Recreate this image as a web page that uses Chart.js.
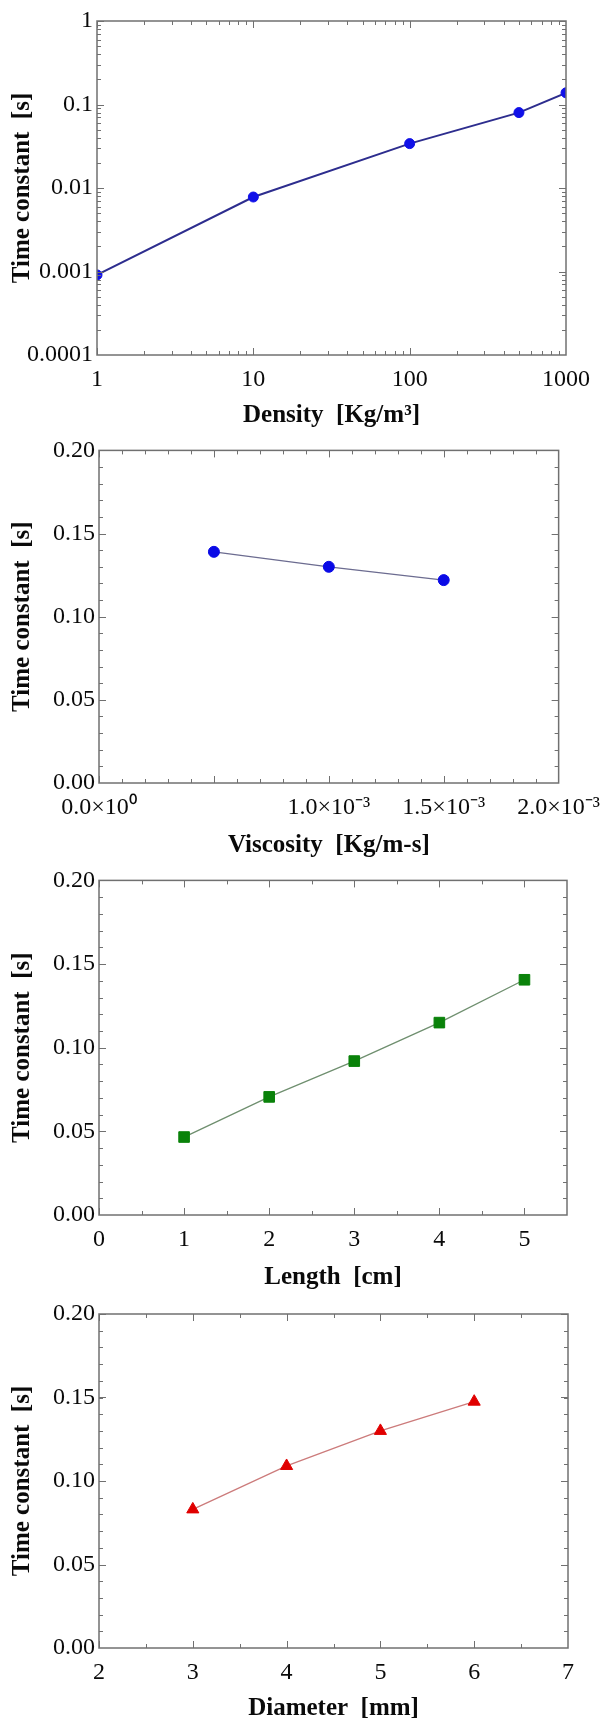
<!DOCTYPE html>
<html>
<head>
<meta charset="utf-8">
<script src="https://cdn.jsdelivr.net/npm/chart.js@4.4.1/dist/chart.umd.min.js"></script>
<style>
html,body{margin:0;padding:0;background:#fff;overflow:hidden;width:610px;height:1721px;}
canvas{position:absolute;left:0;display:block;}
</style>
</head>
<body>
<canvas id="c1" width="610" height="432" style="top:0px"></canvas>
<canvas id="c2" width="610" height="430" style="top:432px"></canvas>
<canvas id="c3" width="610" height="432" style="top:862px"></canvas>
<canvas id="c4" width="610" height="430" style="top:1294px"></canvas>
<script>
// ---------- DATA ----------
const densityX = [1, 10, 100, 500, 1000];
const densityY = [0.00091, 0.0078, 0.034, 0.080, 0.138];
const densityXTicks = [1, 10, 100, 1000];
const densityXLabels = ['1', '10', '100', '1000'];
const densityYTicks = [0.0001, 0.001, 0.01, 0.1, 1];
const densityYLabels = ['0.0001', '0.001', '0.01', '0.1', '1'];

const viscosityX = [0.0005, 0.0010, 0.0015];
const viscosityY = [0.139, 0.130, 0.122];
const viscosityXTicks = [0, 0.001, 0.0015, 0.002];
const viscosityXLabels = ['0.0×10⁰', '1.0×10⁻³', '1.5×10⁻³', '2.0×10⁻³'];

const lengthX = [1, 2, 3, 4, 5];
const lengthY = [0.0466, 0.0706, 0.092, 0.115, 0.1406];
const lengthXTicks = [0, 1, 2, 3, 4, 5];
const lengthXLabels = ['0', '1', '2', '3', '4', '5'];

const diameterX = [3, 4, 5, 6];
const diameterY = [0.083, 0.109, 0.130, 0.1475];
const diameterXTicks = [2, 3, 4, 5, 6, 7];
const diameterXLabels = ['2', '3', '4', '5', '6', '7'];

const timeYTicks = [0, 0.05, 0.10, 0.15, 0.20];
const timeYLabels = ['0.00', '0.05', '0.10', '0.15', '0.20'];

const yTitle = 'Time constant  [s]';

// ---------- helpers for frame tick marks (decoration) ----------
function steps(a, b, s) { const out = []; const n = Math.round((b - a) / s); for (let i = 0; i <= n; i++) out.push(a + i * s); return out; }
function logMinor(lo, hi) { const out = []; for (let d = lo; d < hi; d *= 10) for (let k = 2; k <= 9; k++) out.push(d * k); return out; }

const frameTicks = {
  id: 'frameTicks',
  afterDatasetsDraw(chart, args, o) {
    const {ctx, chartArea: a, scales: {x, y}} = chart;
    ctx.save();
    ctx.strokeStyle = '#707070';
    ctx.lineWidth = 1;
    const seg = (x1, y1, x2, y2) => { ctx.beginPath(); ctx.moveTo(x1, y1); ctx.lineTo(x2, y2); ctx.stroke(); };
    const xs = (vals, len) => vals.forEach(v => { const p = Math.round(x.getPixelForValue(v)) + 0.5; if (p < a.left || p > a.right) return; seg(p, a.bottom, p, a.bottom - len); seg(p, a.top, p, a.top + len); });
    const ys = (vals, len) => vals.forEach(v => { const p = Math.round(y.getPixelForValue(v)) + 0.5; if (p < a.top || p > a.bottom) return; seg(a.left, p, a.left + len, p); seg(a.right, p, a.right - len, p); });
    xs(o.xMajor, 7); xs(o.xMinor, 4);
    ys(o.yMajor, 7); ys(o.yMinor, 4);
    ctx.lineWidth = 1.5;
    ctx.strokeRect(a.left, a.top, a.right - a.left, a.bottom - a.top);
    ctx.restore();
  }
};

const SERIF = '"Liberation Serif", "Times New Roman", serif';

function makeChart(id, c) {
  const canvas = document.getElementById(id);
  const H = canvas.height;
  return new Chart(canvas, {
    type: 'scatter',
    data: {
      datasets: [{
        data: c.xs.map((v, i) => ({x: v, y: c.ys[i]})),
        showLine: true,
        clip: c.clip,
        borderColor: c.lineColor,
        borderWidth: c.lineWidth,
        pointStyle: c.pointStyle,
        pointRadius: c.pointRadius,
        pointBackgroundColor: c.pointColor,
        pointBorderColor: c.pointColor,
        pointBorderWidth: 1,
        tension: 0
      }]
    },
    options: {
      responsive: false,
      animation: false,
      events: [],
      layout: {padding: {left: 0, top: c.top, right: 610 - c.right, bottom: 0}},
      plugins: {legend: {display: false}, tooltip: {enabled: false}, frameTicks: c.frame},
      scales: {
        x: {
          type: c.xType, min: c.xMin, max: c.xMax,
          grid: {display: false, drawTicks: false},
          border: {display: false},
          afterBuildTicks: s => { s.ticks = c.xTicks.map(v => ({value: v})); },
          afterFit: s => { s.height = H - c.bottom; },
          ticks: {
            autoSkip: false, maxRotation: 0, minRotation: 0, padding: 10,
            color: '#0a0a0a', font: {family: SERIF, size: 24},
            callback: (v, i) => c.xLabels[i]
          },
          title: {display: true, text: c.xTitle, color: '#0a0a0a', font: {family: SERIF, size: 25, weight: 'bold'}, padding: {top: 0, bottom: c.titlePad}}
        },
        y: {
          type: c.yType, min: c.yMin, max: c.yMax,
          grid: {display: false, drawTicks: false},
          border: {display: false},
          afterBuildTicks: s => { s.ticks = c.yTicks.map(v => ({value: v})); },
          afterFit: s => { s.width = c.left; },
          ticks: {
            autoSkip: false, padding: 4,
            color: '#0a0a0a', font: {family: SERIF, size: 24},
            callback: (v, i) => c.yLabels[i]
          },
          title: {display: true, text: yTitle, color: '#0a0a0a', font: {family: SERIF, size: 25, weight: 'bold'}, padding: {top: 8, bottom: 0}}
        }
      }
    },
    plugins: [frameTicks]
  });
}

const linY = {yType: 'linear', yMin: 0, yMax: 0.2, yTicks: timeYTicks, yLabels: timeYLabels};
const linYFrame = {yMajor: steps(0, 0.2, 0.05), yMinor: steps(0, 0.2, 0.01)};

makeChart('c1', {
  xs: densityX, ys: densityY, clip: 0,
  xType: 'logarithmic', xMin: 1, xMax: 1000, xTicks: densityXTicks, xLabels: densityXLabels,
  yType: 'logarithmic', yMin: 0.0001, yMax: 1, yTicks: densityYTicks, yLabels: densityYLabels,
  xTitle: 'Density  [Kg/m³]', titlePad: 1,
  left: 97, right: 566, top: 21, bottom: 355,
  lineColor: '#2d2d8e', lineWidth: 2, pointStyle: 'circle', pointRadius: 5, pointColor: '#1010e8',
  frame: {xMajor: densityXTicks, xMinor: logMinor(1, 1000), yMajor: densityYTicks, yMinor: logMinor(0.0001, 1)}
});

makeChart('c2', Object.assign({}, linY, {
  xs: viscosityX, ys: viscosityY,
  xType: 'linear', xMin: 0, xMax: 0.002, xTicks: viscosityXTicks, xLabels: viscosityXLabels,
  xTitle: 'Viscosity  [Kg/m-s]', titlePad: 1,
  left: 99, right: 568, top: 17, bottom: 351,
  lineColor: '#6c6c90', lineWidth: 1.3, pointStyle: 'circle', pointRadius: 5.5, pointColor: '#0a0ae6',
  frame: Object.assign({xMajor: steps(0, 0.002, 0.0005), xMinor: steps(0, 0.002, 0.0001)}, linYFrame)
}));

makeChart('c3', Object.assign({}, linY, {
  xs: lengthX, ys: lengthY,
  xType: 'linear', xMin: 0, xMax: 5.5, xTicks: lengthXTicks, xLabels: lengthXLabels,
  xTitle: 'Length  [cm]', titlePad: 1,
  left: 99, right: 567, top: 17, bottom: 353,
  lineColor: '#6f8f6f', lineWidth: 1.3, pointStyle: 'rect', pointRadius: 7.5, pointColor: '#0a820a',
  frame: Object.assign({xMajor: steps(0, 5, 1), xMinor: steps(0.5, 5.5, 1)}, linYFrame)
}));

makeChart('c4', Object.assign({}, linY, {
  xs: diameterX, ys: diameterY,
  xType: 'linear', xMin: 2, xMax: 7, xTicks: diameterXTicks, xLabels: diameterXLabels,
  xTitle: 'Diameter  [mm]', titlePad: 0,
  left: 99, right: 568, top: 20, bottom: 354,
  lineColor: '#cc7b7b', lineWidth: 1.3, pointStyle: 'triangle', pointRadius: 7, pointColor: '#e00000',
  frame: Object.assign({xMajor: steps(2, 7, 1), xMinor: steps(2.5, 6.5, 1)}, linYFrame)
}));
</script>
</body>
</html>
